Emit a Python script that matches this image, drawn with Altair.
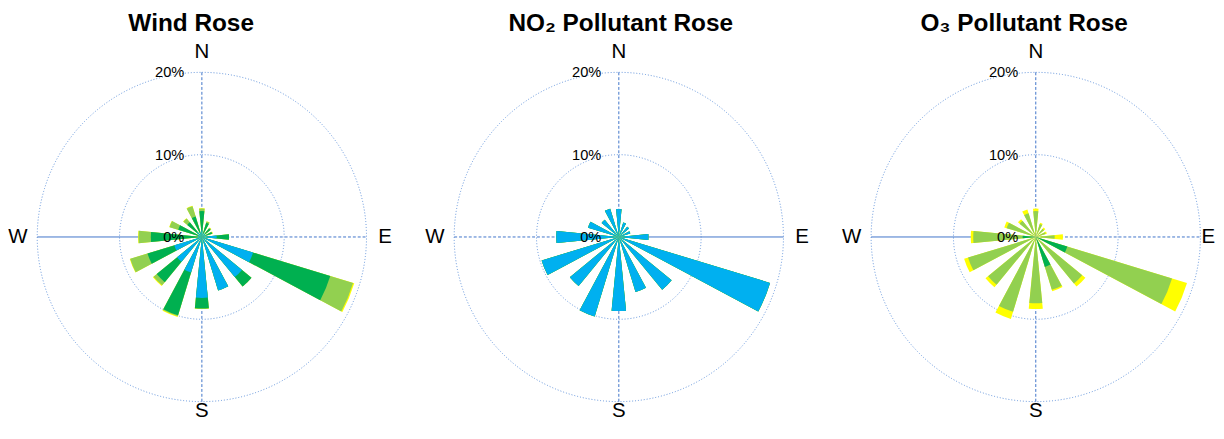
import math
import altair as alt
import pandas as pd

# ---------------- data ----------------
directions = [0, 22.5, 45, 67.5, 90, 112.5, 135, 157.5, 180, 202.5, 225, 247.5, 270, 292.5, 315, 337.5]
categories = ["c1", "c2", "c3", "c4"]
cat_colors = ["#00B0F0", "#00B050", "#92D050", "#FFFF00"]
ring_values = [20, 10, 0]
ring_labels = ["20%", "10%", "0%"]
compass_labels = ["N", "E", "S", "W"]
titles = ["Wind Rose", "NO\u2082 Pollutant Rose", "O\u2083 Pollutant Rose"]

# Wind rose (% frequency, stacked segments per direction)
wind_c1 = [0.8, 0.5, 0.5, 0.5, 1.8, 6.5, 6.3, 6.8, 7.4, 4.5, 3.9, 3.5, 0.5, 0.5, 0.8, 0.6]
wind_c2 = [2.35, 1.3, 0.85, 0.8, 1.5, 9.8, 1.5, 0.0, 1.3, 5.45, 3.2, 3.4, 5.7, 2.5, 1.5, 2.0]
wind_c3 = [0.3, 0.15, 0.1, 0.05, 0.0, 2.9, 0.0, 0.0, 0.0, 0.1, 0.5, 2.2, 1.5, 1.1, 0.6, 1.3]
wind_c4 = [0.05, 0.05, 0.05, 0.05, 0.0, 0.15, 0.0, 0.0, 0.05, 0.1, 0.1, 0.05, 0.05, 0.05, 0.05, 0.05]

# NO2 pollutant rose
no2_c1 = [3.4, 1.85, 1.6, 1.45, 3.6, 19.2, 8.3, 7.0, 9.0, 10.1, 7.7, 9.8, 7.6, 3.9, 2.7, 3.6]
no2_c2 = [0.0] * 16
no2_c3 = [0.0] * 16
no2_c4 = [0.0] * 16

# O3 pollutant rose
o3_c1 = [0.0] * 16
o3_c2 = [0.0, 0.0, 0.0, 0.0, 0.0, 4.0, 0.0, 3.8, 0.0, 0.0, 0.0, 0.0, 1.6, 0.0, 0.0, 0.0]
o3_c3 = [3.15, 1.65, 1.3, 1.25, 2.3, 13.3, 7.3, 2.9, 8.05, 9.5, 7.5, 8.6, 6.0, 3.7, 2.55, 3.0]
o3_c4 = [0.3, 0.15, 0.2, 0.15, 1.0, 1.9, 0.5, 0.2, 0.7, 0.9, 0.4, 0.5, 0.3, 0.3, 0.25, 0.5]

# (title, series, title offset, solid half of W-E line, E label offset)
panels = [
    (titles[0], [wind_c1, wind_c2, wind_c3, wind_c4], -11, "left", 12),
    (titles[1], [no2_c1, no2_c2, no2_c3, no2_c4], 2, "right", 12),
    (titles[2], [o3_c1, o3_c2, o3_c3, o3_c4], -12, "left", 1),
]

# ---------------- layout ----------------
HALF_W = 5.6          # half angular width of a bar (deg)
PX_PER_PCT = 8.45
PW, PH = 380, 412     # panel plot size
SP = 33               # spacing between panels
CX, CY = 198, 231.5   # rose centre inside panel (px)
R_PX = 20 * PX_PER_PCT

x_scale = alt.Scale(domain=[-CX / PX_PER_PCT, (PW - CX) / PX_PER_PCT], nice=False, zero=False)
y_scale = alt.Scale(domain=[-(PH - CY) / PX_PER_PCT, CY / PX_PER_PCT], nice=False, zero=False)
theta_scale = alt.Scale(domain=[0, 360], range=[0, 2 * math.pi])
r_scale = alt.Scale(type="linear", domain=[0, 20], range=[0, R_PX], zero=True, nice=False)

FONT = "Liberation Sans"
GRID = "#5B8FD9"
AXLINE = "#3D72C9"


def bars_df(series):
    # each class drawn as a wedge from the centre to its cumulative total,
    # outermost class first so the inner classes sit on top
    rows = []
    for i, d in enumerate(directions):
        base = 0.0
        for k, (cat, vals) in enumerate(zip(categories, series)):
            base += vals[i]
            rows.append(dict(cat=cat, order=-k, t0=d - HALF_W, t1=d + HALF_W, r0=0.0, r1=base, cx=0, cy=0))
    df = pd.DataFrame(rows)
    df = df[df["r1"] > 0].sort_values(["order"], kind="stable").reset_index(drop=True)
    return df


def make_panel(title, series, title_dx, solid_side, e_dx):
    X = alt.X("cx:Q", scale=x_scale, axis=None)
    Y = alt.Y("cy:Q", scale=y_scale, axis=None)

    circ = pd.DataFrame({"r": ring_values[:2], "t0": [0, 0], "t1": [360, 360], "cx": [0, 0], "cy": [0, 0]})
    circles = alt.Chart(circ).mark_arc(filled=False, stroke=GRID, strokeWidth=1, strokeDash=[1, 2]).encode(
        x=X, y=Y,
        theta=alt.Theta("t0:Q", scale=theta_scale, stack=None), theta2="t1:Q",
        radius=alt.Radius("r:Q", scale=r_scale),
    )

    vline = pd.DataFrame({"cx": [0], "cy": [-20], "cy2": [20]})
    ns = alt.Chart(vline).mark_rule(stroke=AXLINE, strokeWidth=1, strokeDash=[3, 2]).encode(
        x=X, y=Y, y2="cy2:Q")

    left = pd.DataFrame({"cx": [-20], "cx2": [0], "cy": [0]})
    right = pd.DataFrame({"cx": [0], "cx2": [20], "cy": [0]})
    if solid_side == "left":
        solid_df, dash_df = left, right
    else:
        solid_df, dash_df = right, left
    we_solid = alt.Chart(solid_df).mark_rule(stroke=AXLINE, strokeWidth=1).encode(x=X, x2="cx2:Q", y=Y)
    we_dash = alt.Chart(dash_df).mark_rule(stroke=AXLINE, strokeWidth=1, strokeDash=[3, 2]).encode(
        x=X, x2="cx2:Q", y=Y)

    bars = alt.Chart(bars_df(series)).mark_arc().encode(
        x=X, y=Y,
        theta=alt.Theta("t0:Q", scale=theta_scale, stack=None), theta2="t1:Q",
        radius=alt.Radius("r1:Q", scale=r_scale), radius2="r0:Q",
        color=alt.Color("cat:N", scale=alt.Scale(domain=categories, range=cat_colors), legend=None),
    )

    rl = pd.DataFrame({"cx": [0, 0, 0], "cy": ring_values, "lab": ring_labels})
    ring_text = alt.Chart(rl).mark_text(font=FONT, fontSize=15, align="right", baseline="middle", dx=-18,
                                        color="#000000").encode(x=X, y=Y, text="lab:N")

    cmp_ns = pd.DataFrame({"cx": [0], "cy": [20], "lab": [compass_labels[0]]})
    cmp_s = pd.DataFrame({"cx": [0], "cy": [-20], "lab": [compass_labels[2]]})
    cmp_e = pd.DataFrame({"cx": [20], "cy": [0], "lab": [compass_labels[1]]})
    cmp_w = pd.DataFrame({"cx": [-20], "cy": [0], "lab": [compass_labels[3]]})
    ct = dict(font=FONT, fontSize=21, baseline="middle", color="#000000")
    t_n = alt.Chart(cmp_ns).mark_text(align="center", dy=-21, **ct).encode(x=X, y=Y, text="lab:N")
    t_s = alt.Chart(cmp_s).mark_text(align="center", dy=10, **ct).encode(x=X, y=Y, text="lab:N")
    t_e = alt.Chart(cmp_e).mark_text(align="left", dx=e_dx, **ct).encode(x=X, y=Y, text="lab:N")
    t_w = alt.Chart(cmp_w).mark_text(align="right", dx=-10, **ct).encode(x=X, y=Y, text="lab:N")

    tdf = pd.DataFrame({"cx": [0], "lab": [title]})
    t_title = alt.Chart(tdf).mark_text(font=FONT, fontSize=25, fontWeight="bold", align="center",
                                       baseline="top", dx=title_dx, color="#000000").encode(
        x=X, y=alt.value(0), text="lab:N")

    return alt.layer(circles, ns, we_solid, we_dash, bars, ring_text, t_n, t_s, t_e, t_w, t_title).properties(
        width=PW, height=PH)


chart = alt.hconcat(*[make_panel(*p) for p in panels], spacing=SP).properties(
    padding={"left": 0, "top": -2, "right": 0, "bottom": 0},
).configure_view(stroke=None)

chart.save("out.html", embed_options={"renderer": "svg", "actions": False})
